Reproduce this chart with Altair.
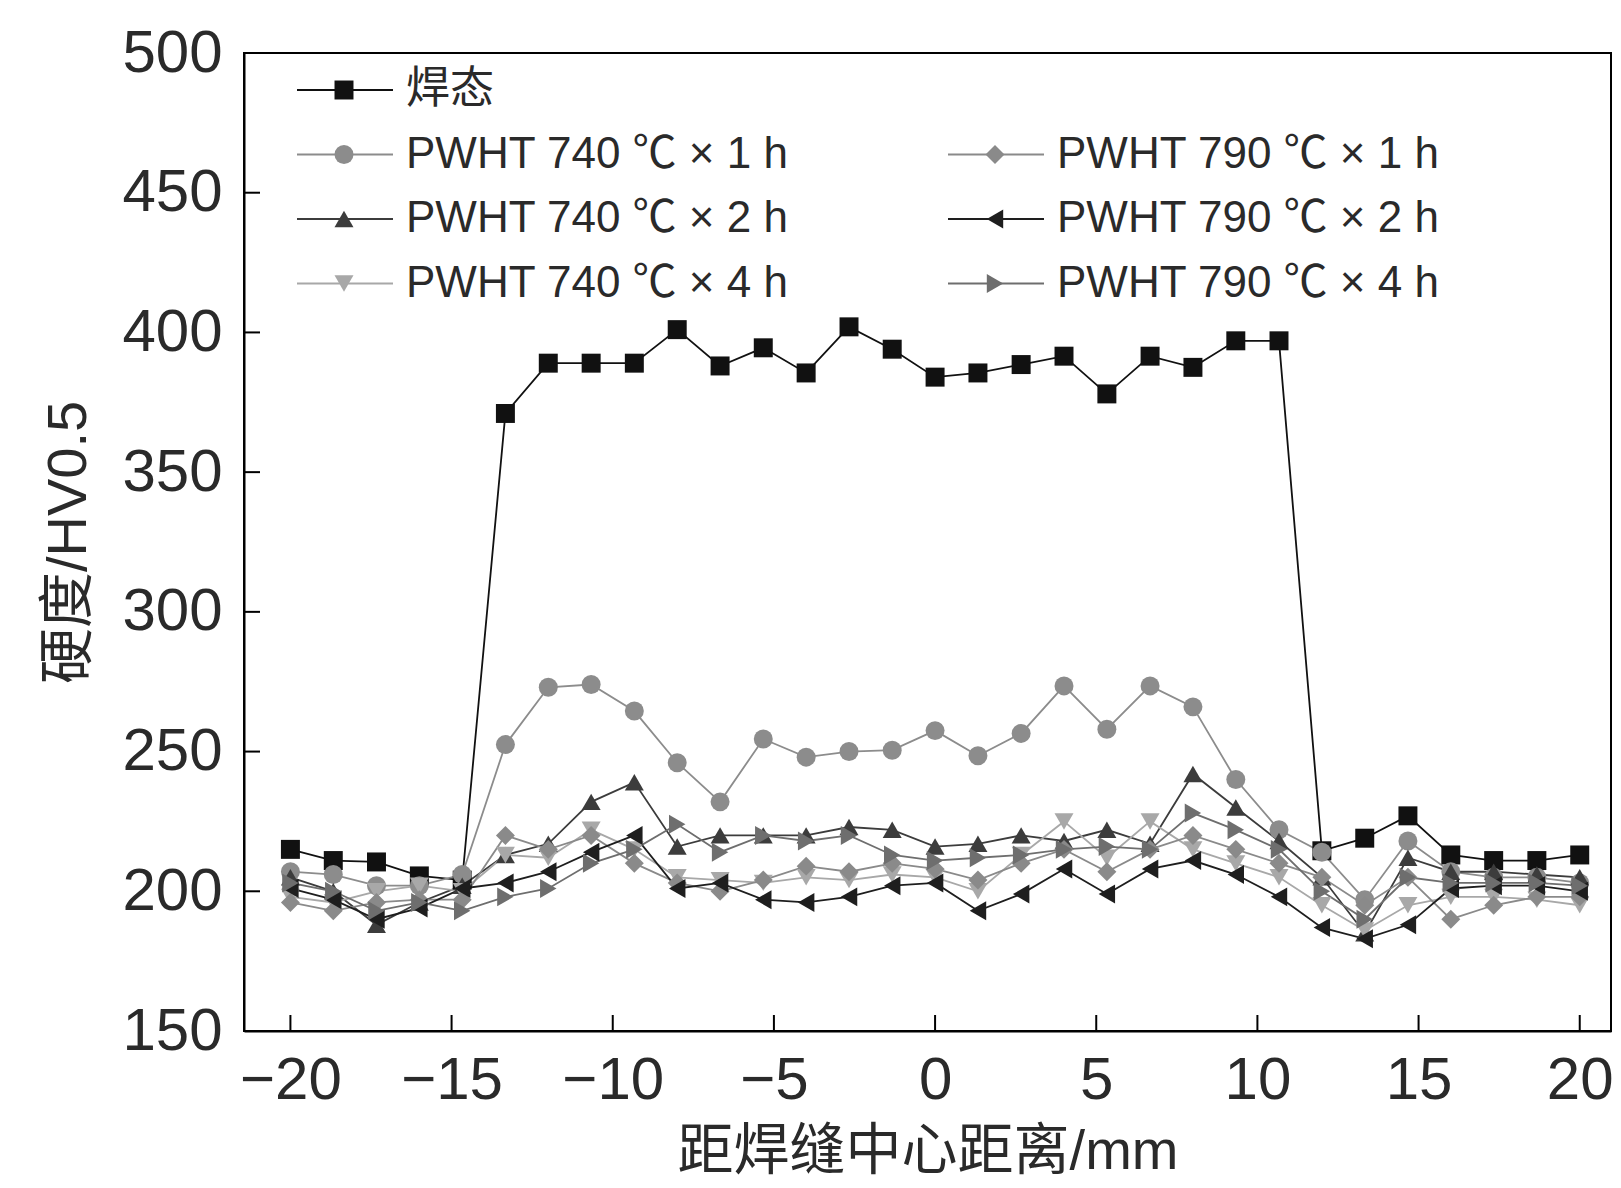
import altair as alt
import pandas as pd

# ---------------- data ----------------
x_mm = [-20, -18.67, -17.33, -16, -14.67, -13.33, -12, -10.67, -9.33, -8,
        -6.67, -5.33, -4, -2.67, -1.33, 0, 1.33, 2.67, 4, 5.33,
        6.67, 8, 9.33, 10.67, 12, 13.33, 14.67, 16, 17.33, 18.67, 20]

series_names = ["焊态",
                "PWHT 740 ℃ × 1 h", "PWHT 740 ℃ × 2 h", "PWHT 740 ℃ × 4 h",
                "PWHT 790 ℃ × 1 h", "PWHT 790 ℃ × 2 h", "PWHT 790 ℃ × 4 h"]

as_welded = [215, 211, 210.5, 205.5, 204, 371, 389, 389, 389, 401,
             388, 394.5, 385.5, 402, 394, 384, 385.5, 388.5, 391.5, 378,
             391.5, 387.5, 397, 397, 214.5, 219, 227, 213, 211, 211, 213]
p740_1h = [207, 206, 202, 202, 206, 252.5, 273, 274, 264.5, 246,
           232, 254.5, 248, 250, 250.5, 257.5, 248.5, 256.5, 273.5, 258,
           273.5, 266, 240, 222, 214, 197, 218, 207, 205, 205, 203]
p740_2h = [205, 200, 188, 196, 202, 213, 217, 232, 239, 216,
           220, 220, 220, 223, 222, 216, 217, 220, 218, 222,
           217, 242, 230, 218, 205, 185, 212, 207, 207, 206, 205]
p740_4h = [198, 196, 200, 202, 200, 213, 212, 222, 215, 205,
           204, 203, 205, 204, 206, 205, 200, 213, 225, 212,
           225, 215, 210, 205, 195, 186, 195, 198, 198, 197, 195]
p790_1h = [196, 193, 196, 197, 197, 220, 215, 220, 210, 203,
           200, 204, 209, 207, 210, 208, 204, 210, 215, 207,
           215, 220, 215, 210, 205, 195, 205, 190, 195, 198, 198]
p790_2h = [201, 197, 190, 194, 201, 203, 207, 214, 220, 201,
           203, 197, 196, 198, 202, 203, 193, 199, 208, 199,
           208, 211, 206, 198, 187, 183, 188, 201, 202, 202, 200]
p790_4h = [203, 200, 193, 196, 193, 198, 201, 210, 215, 224,
           214, 220, 218, 220, 213, 211, 212, 213, 215, 216,
           215, 228, 222, 215, 200, 190, 205, 203, 203, 203, 202]

x_ticks = [-20, -15, -10, -5, 0, 5, 10, 15, 20]
y_ticks = [150, 200, 250, 300, 350, 400, 450, 500]

# ---------------- styles ----------------
line_colors = ["#111111", "#8c8c8c", "#3c3c3c", "#a8a8a8", "#8a8a8a", "#1e1e1e", "#6e6e6e"]
shapes = ["square", "circle", "triangle-up", "triangle-down", "diamond",
          "triangle-left", "triangle-right"]

W, H = 1367, 978
FONT = "Liberation Sans, Noto Sans CJK SC"

rows = []
for name, vals in zip(series_names, [as_welded, p740_1h, p740_2h, p740_4h,
                                     p790_1h, p790_2h, p790_4h]):
    for i, (x, y) in enumerate(zip(x_mm, vals)):
        rows.append({"series": name, "x": x, "y": y, "i": i})
df = pd.DataFrame(rows)

color_scale = alt.Scale(domain=series_names, range=line_colors)
shape_scale = alt.Scale(domain=series_names, range=shapes)
xs = alt.Scale(domain=[-21.44, 20.97], nice=False, zero=False)
ys = alt.Scale(domain=[150, 500], nice=False, zero=False)

base = alt.Chart(df)
lines = base.mark_line(strokeWidth=1.8).encode(
    x=alt.X("x:Q", scale=xs,
            axis=alt.Axis(values=x_ticks, title="距焊缝中心距离/mm",
                          labelFlush=False, labelOverlap=False,
                          labelPadding=20, titlePadding=14)),
    y=alt.Y("y:Q", scale=ys,
            axis=alt.Axis(values=y_ticks, title="硬度/HV0.5",
                          labelOverlap=False, labelPadding=22,
                          titlePadding=24)),
    color=alt.Color("series:N", scale=color_scale, legend=None),
    detail="series:N",
    order="i:Q",
)
points = base.mark_point(filled=True, size=360, opacity=1).encode(
    x=alt.X("x:Q", scale=xs),
    y=alt.Y("y:Q", scale=ys),
    color=alt.Color("series:N", scale=color_scale, legend=None),
    shape=alt.Shape("series:N", scale=shape_scale, legend=None),
)

# inward tick marks
xt = alt.Chart(pd.DataFrame({"t": x_ticks})).mark_rule(color="black", strokeWidth=2).encode(
    x=alt.X("t:Q", scale=xs), y=alt.value(H), y2=alt.value(H - 16))
yt = alt.Chart(pd.DataFrame({"t": y_ticks})).mark_rule(color="black", strokeWidth=2).encode(
    y=alt.Y("t:Q", scale=ys), x=alt.value(0), x2=alt.value(16))

# hand-made legend (first entry alone, then two columns)
leg_col = [0, 0, 0, 0, 1, 1, 1]
leg_row = [0, 1, 2, 3, 1, 2, 3]
leg = pd.DataFrame({
    "series": series_names,
    "x0": [53 + 651 * c for c in leg_col],
    "x1": [149 + 651 * c for c in leg_col],
    "xm": [100 + 651 * c for c in leg_col],
    "xt": [162 + 651 * c for c in leg_col],
    "ly": [37 + 64.5 * r for r in leg_row],
})
lb = alt.Chart(leg)
leg_lines = lb.mark_rule(strokeWidth=1.8).encode(
    x=alt.X("x0:Q", scale=None), x2="x1:Q", y=alt.Y("ly:Q", scale=None),
    color=alt.Color("series:N", scale=color_scale, legend=None))
leg_pts = lb.mark_point(filled=True, size=360, opacity=1).encode(
    x=alt.X("xm:Q", scale=None), y=alt.Y("ly:Q", scale=None),
    color=alt.Color("series:N", scale=color_scale, legend=None),
    shape=alt.Shape("series:N", scale=shape_scale, legend=None))
leg_txt = lb.mark_text(align="left", baseline="middle", font=FONT, fontSize=44,
                       color="#2a2a2a").encode(
    x=alt.X("xt:Q", scale=None), y=alt.Y("ly:Q", scale=None), text="series:N")

chart = alt.layer(lines, points, xt, yt, leg_lines, leg_pts, leg_txt).properties(
    width=W, height=H,
    autosize=alt.AutoSizeParams(type="none"),
    padding={"left": 236, "top": 45, "right": 2, "bottom": 149},
).configure_view(stroke="black", strokeWidth=2).configure_axis(
    domainColor="black", domainWidth=2, ticks=False, grid=False,
    labelFont=FONT, labelFontSize=60, labelColor="#2a2a2a",
    titleFont=FONT, titleFontSize=56, titleFontWeight="normal", titleColor="#2a2a2a",
)

chart.save("out.html", embed_options={"renderer": "svg", "actions": False})
